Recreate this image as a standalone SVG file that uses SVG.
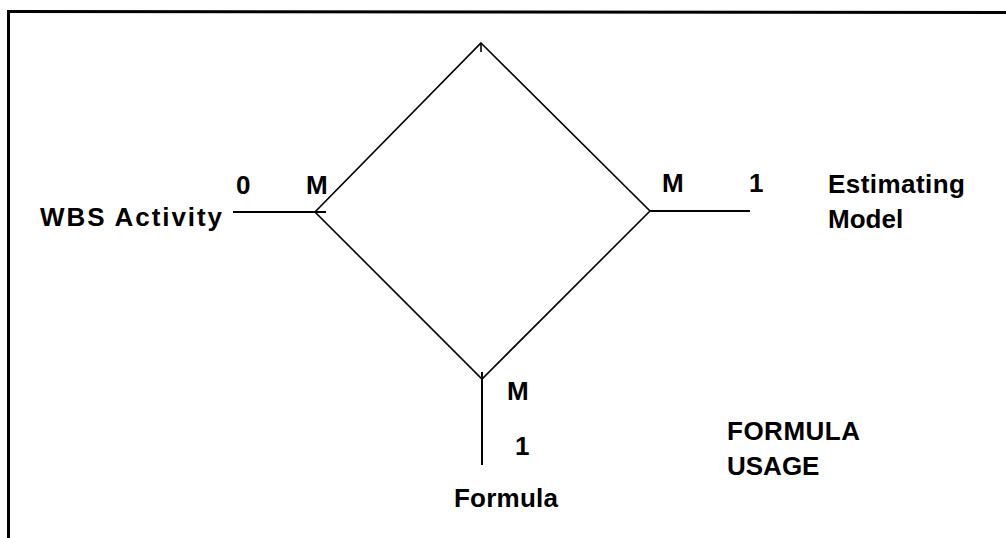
<svg xmlns="http://www.w3.org/2000/svg" width="1006" height="538" viewBox="0 0 1006 538">
<style>
.t{font-family:"Liberation Sans",Arial,sans-serif;font-weight:bold;font-size:26px;fill:#000}
.e{stroke:#000;stroke-width:1.6;fill:none}
.c{stroke:#000;stroke-width:2;fill:none}
.f{stroke:#000;fill:none}
</style>
<rect width="1006" height="538" fill="#fff"/>
<g id="frame">
<line class="f" x1="7" y1="11.5" x2="1006" y2="12.5" stroke-width="3"/>
<line class="f" x1="8.5" y1="10" x2="8.5" y2="538" stroke-width="3"/>
</g>
<g id="relationship">
<polygon class="e" points="481,43 650,211 482,379 315,212"/>
<line class="e" x1="481" y1="43" x2="481" y2="52"/>
<text class="t" x="727" y="440" textLength="133">FORMULA</text>
<text class="t" x="727" y="475">USAGE</text>
</g>
<g id="wbs-activity">
<text class="t" x="40" y="226" textLength="182" lengthAdjust="spacing">WBS Activity</text>
</g>
<g id="estimating-model">
<text class="t" x="828" y="193" textLength="137" lengthAdjust="spacing">Estimating</text>
<text class="t" x="828" y="228">Model</text>
</g>
<g id="formula">
<text class="t" x="454" y="507" textLength="104" lengthAdjust="spacing">Formula</text>
</g>
<g id="connectors">
<line class="c" x1="233" y1="212" x2="326" y2="212"/>
<text class="t" x="236" y="194">0</text>
<text class="t" x="306" y="194">M</text>
<line class="c" x1="650" y1="211" x2="750" y2="211"/>
<text class="t" x="662" y="192">M</text>
<text class="t" x="749" y="192">1</text>
<line class="c" x1="482" y1="372" x2="482" y2="465"/>
<text class="t" x="507" y="400">M</text>
<text class="t" x="515" y="455">1</text>
</g>
</svg>
